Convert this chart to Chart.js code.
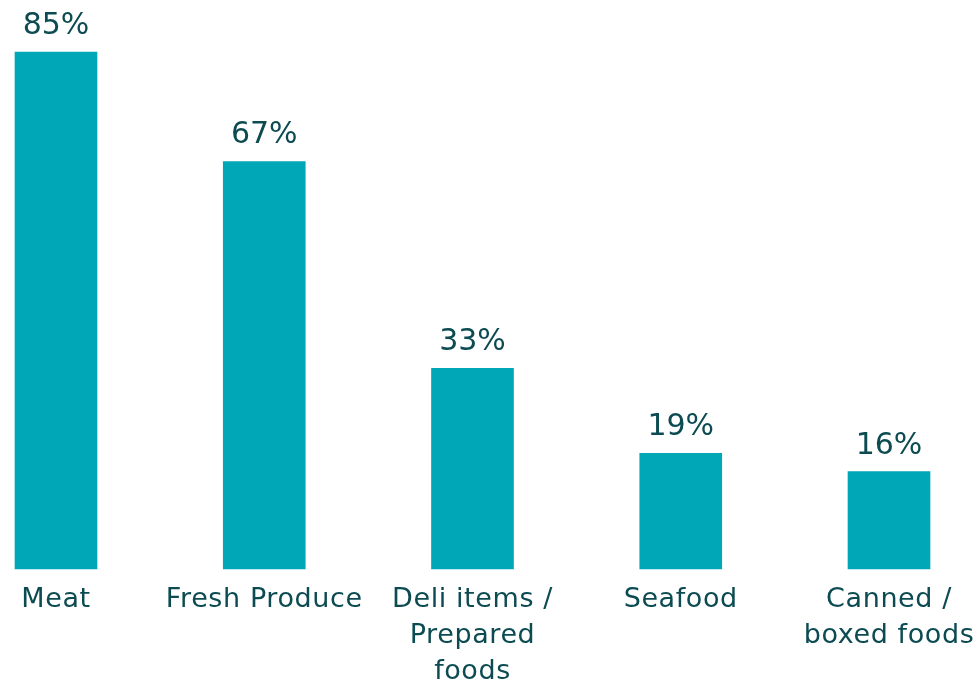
<!DOCTYPE html>
<html>
<head>
<meta charset="utf-8">
<script src="https://cdn.jsdelivr.net/npm/chart.js@4"></script>
<style>
html,body{margin:0;padding:0;background:#fff;}
#wrap{width:980px;height:687px;position:relative;}
</style>
</head>
<body>
<div id="wrap"><canvas id="c" width="980" height="687"></canvas></div>
<script>
const categories = [["Meat"], ["Fresh Produce"], ["Deli items /", "Prepared", "foods"], ["Seafood"], ["Canned /", "boxed foods"]];
const values = [85, 67, 33, 19, 16];
const valueLabels = ["85%", "67%", "33%", "19%", "16%"];

const TEXT = '#0c4b51';
const BAR = '#00a7b7';
const FONT = '"DejaVu Sans"';

const spacingPlugin = {
  id: 'spacing',
  beforeInit(chart) { chart.ctx.letterSpacing = '0.6px'; },
  beforeDraw(chart) { chart.ctx.letterSpacing = '0.6px'; }
};

const valuePlugin = {
  id: 'valueLabels',
  afterDatasetsDraw(chart) {
    const ctx = chart.ctx;
    const meta = chart.getDatasetMeta(0);
    ctx.save();
    ctx.fillStyle = TEXT;
    ctx.font = '30px ' + FONT;
    ctx.letterSpacing = '0px';
    ctx.textAlign = 'center';
    ctx.textBaseline = 'alphabetic';
    meta.data.forEach((bar, i) => {
      ctx.fillText(valueLabels[i], bar.x, bar.y - 18);
    });
    ctx.restore();
  }
};

new Chart(document.getElementById('c'), {
  type: 'bar',
  data: {
    labels: categories,
    datasets: [{
      data: values,
      backgroundColor: BAR,
      barThickness: 82,
      clip: false
    }]
  },
  options: {
    responsive: false,
    animation: false,
    layout: { padding: { left: 56, right: 91, top: 21.6, bottom: 0 } },
    plugins: { legend: { display: false }, tooltip: { enabled: false } },
    scales: {
      x: {
        offset: false,
        grid: { display: false, drawTicks: false },
        border: { display: false },
        afterFit(scale) {
          scale.height = 118;
          scale.paddingLeft = 0;
          scale.paddingRight = 0;
        },
        ticks: {
          color: TEXT,
          padding: 13,
          maxRotation: 0,
          autoSkip: false,
          font: { family: FONT, size: 27, weight: 'normal', lineHeight: 36/27 }
        }
      },
      y: {
        display: false,
        min: 0,
        max: 90
      }
    }
  },
  plugins: [spacingPlugin, valuePlugin]
});
</script>
</body>
</html>
